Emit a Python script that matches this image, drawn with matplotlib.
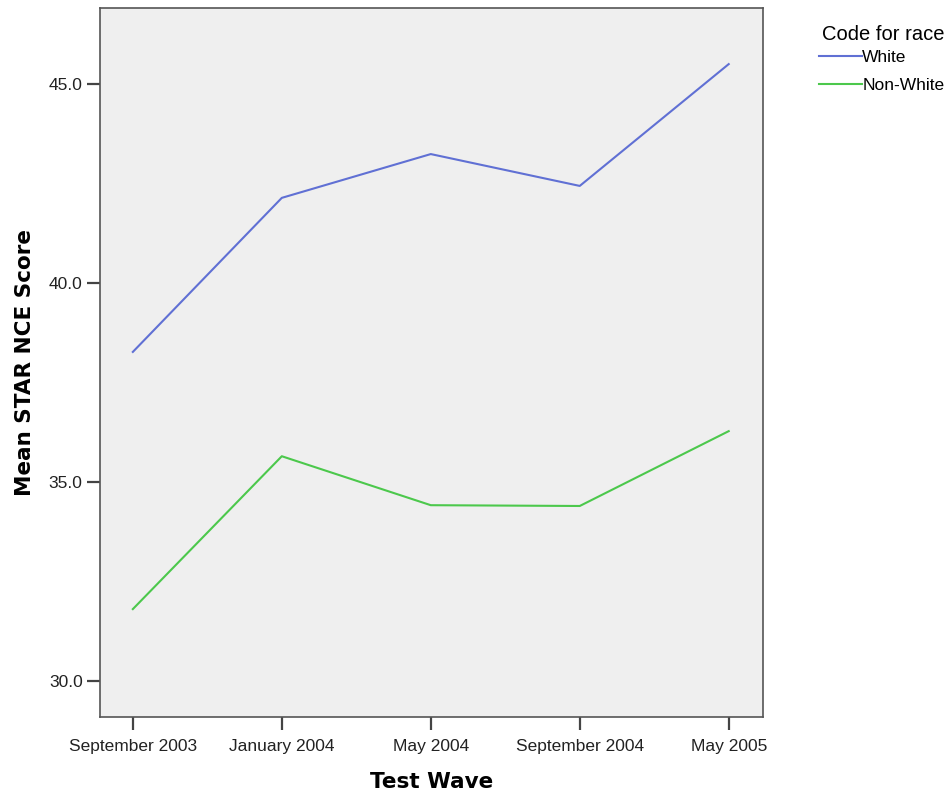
import numpy as np
import matplotlib.pyplot as plt
from matplotlib.lines import Line2D

# Datos
olas = ['September 2003', 'January 2004', 'May 2004', 'September 2004', 'May 2005']
white = [38.27, 42.14, 43.24, 42.44, 45.50]
non_white = [31.81, 35.65, 34.42, 34.40, 36.28]

color_white = '#6070d4'
color_nonwhite = '#4cc84c'
fuente = 'Liberation Sans'

fig = plt.figure(figsize=(9.53, 7.97), dpi=100)
ax = fig.add_axes([0.105, 0.1004, 0.6956, 0.8896])
ax.set_facecolor('#efefef')

x = np.arange(len(olas))
ax.plot(x, white, c=color_white, lw=1.5)
ax.plot(x, non_white, c=color_nonwhite, lw=1.5)

ax.set_xlim(-0.22, 4.23)
ax.set_ylim(29.1, 46.91)
ax.set_xticks(x)
ax.set_xticklabels(olas, fontsize=12.5, color='#222222', family=fuente)
ax.set_yticks([30, 35, 40, 45])
ax.set_yticklabels(['30.0', '35.0', '40.0', '45.0'], fontsize=12.5, color='#222222', family=fuente)
ax.tick_params(axis='x', length=9.5, width=1.6, color='#444444', pad=6)
ax.tick_params(axis='y', length=9.5, width=1.6, color='#444444', pad=3)
for s in ax.spines.values():
    s.set_color('#555555')
    s.set_linewidth(1.2)

ax.set_xlabel('Test Wave', fontsize=15.5, fontweight='bold', labelpad=13)
ax.set_ylabel('Mean STAR NCE Score', fontsize=15.5, fontweight='bold', labelpad=10)

handles = [Line2D([], [], c=color_white, lw=1.5), Line2D([], [], c=color_nonwhite, lw=1.5)]
leg = fig.legend(handles, ['White', 'Non-White'], title='Code for race',
                 loc='upper left', bbox_to_anchor=(0.852, 0.977), frameon=False,
                 prop={'family': fuente, 'size': 12.5}, title_fontproperties={'family': fuente, 'size': 14.5},
                 handlelength=2.5, handletextpad=0, labelspacing=0.72, borderaxespad=0)
leg._legend_box.align = 'right'
leg._legend_box.sep = 4  # menos espacio entre titulo y entradas

fig.savefig('out.png', dpi=100)
